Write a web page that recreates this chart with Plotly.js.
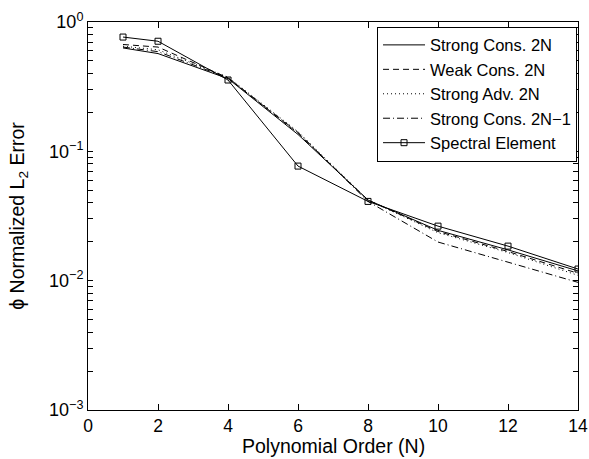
<!DOCTYPE html>
<html>
<head>
<meta charset="utf-8">
<script src="https://cdn.plot.ly/plotly-3.0.1.min.js"></script>
<style>html,body{margin:0;padding:0;background:#fff;}#chart{width:589px;height:459px;}</style>
</head>
<body>
<div id="chart"></div>
<script>
const orders = [1, 2, 4, 6, 8, 10, 12, 14];
const strongCons2N = [0.63, 0.57, 0.365, 0.135, 0.042, 0.0245, 0.0173, 0.0119];
const weakCons2N = [0.67, 0.64, 0.37, 0.138, 0.042, 0.0240, 0.0168, 0.0114];
const strongAdv2N = [0.65, 0.61, 0.375, 0.142, 0.042, 0.0235, 0.0165, 0.0110];
const strongCons2Nm1 = [0.64, 0.59, 0.37, 0.14, 0.041, 0.0199, 0.0139, 0.0097];
const spectralElement = [0.765, 0.71, 0.356, 0.0769, 0.041, 0.0264, 0.0185, 0.0123];
const seriesNames = ["Strong Cons. 2N", "Weak Cons. 2N", "Strong Adv. 2N", "Strong Cons. 2N\u22121", "Spectral Element"];
// y ticks: decades labelled, in-between values are unlabelled minor ticks
const yTickVals = [0.001, 0.002, 0.003, 0.004, 0.005, 0.006, 0.007, 0.008, 0.009,
                   0.01, 0.02, 0.03, 0.04, 0.05, 0.06, 0.07, 0.08, 0.09,
                   0.1, 0.2, 0.3, 0.4, 0.5, 0.6, 0.7, 0.8, 0.9, 1];
const yTickText = ["10<sup>\u22123</sup>", "", "", "", "", "", "", "", "",
                   "10<sup>\u22122</sup>", "", "", "", "", "", "", "", "",
                   "10<sup>\u22121</sup>", "", "", "", "", "", "", "", "",
                   "10<sup>0</sup>"];
const xTickVals = [0, 2, 4, 6, 8, 10, 12, 14];
const xTitle = 'Polynomial Order (N)';
const yTitle = '\u03D5 Normalized L<sub>2</sub> Error';

const base = {type: 'scatter', x: orders, hoverinfo: 'skip'};
const traces = [
  Object.assign({}, base, {y: strongCons2N, name: seriesNames[0], mode: 'lines', line: {color: '#000', width: 1}}),
  Object.assign({}, base, {y: weakCons2N, name: seriesNames[1], mode: 'lines', line: {color: '#000', width: 1, dash: '6px,4px'}}),
  Object.assign({}, base, {y: strongAdv2N, name: seriesNames[2], mode: 'lines', line: {color: '#000', width: 1, dash: '1px,3px'}}),
  Object.assign({}, base, {y: strongCons2Nm1, name: seriesNames[3], mode: 'lines', line: {color: '#000', width: 1, dash: '7px,3px,1px,3px'}}),
  Object.assign({}, base, {y: spectralElement, name: seriesNames[4], mode: 'lines+markers', line: {color: '#000', width: 1},
    marker: {symbol: 'square-open', size: 6, color: '#000', line: {width: 1, color: '#000'}}})
];

const fontFam = 'Liberation Sans, Arial, Helvetica, sans-serif';
const layout = {
  width: 589, height: 459,
  margin: {l: 88, r: 11, t: 22, b: 49},
  paper_bgcolor: '#fff', plot_bgcolor: '#fff',
  font: {family: fontFam, size: 16, color: '#000'},
  showlegend: true,
  legend: {
    x: 0.998, xanchor: 'right', y: 0.988, yanchor: 'top',
    bgcolor: '#fff', bordercolor: '#000', borderwidth: 1,
    font: {family: fontFam, size: 16.5, color: '#000'},
    itemwidth: 42,
    tracegroupgap: 0
  },
  xaxis: {
    range: [0, 14], tickvals: xTickVals, ticks: 'inside', ticklen: 6, tickwidth: 1, tickcolor: '#000',
    showline: true, linecolor: '#000', linewidth: 1, mirror: 'allticks',
    showgrid: false, zeroline: false, automargin: false,
    tickfont: {family: fontFam, size: 17.5, color: '#000'}
  },
  yaxis: {
    type: 'log', range: [-3, 0], tickmode: 'array', tickvals: yTickVals, ticktext: yTickText,
    ticks: 'inside', ticklen: 5, tickwidth: 1, tickcolor: '#000',
    showline: true, linecolor: '#000', linewidth: 1, mirror: 'allticks',
    showgrid: false, zeroline: false, automargin: false,
    tickfont: {family: fontFam, size: 18, color: '#000'},
    title: {text: yTitle, font: {family: fontFam, size: 19.5, color: '#000'}, standoff: 19}
  },
  annotations: [{
    text: xTitle, xref: 'paper', yref: 'paper', x: 0.5, y: -0.092,
    xanchor: 'center', yanchor: 'middle', showarrow: false,
    font: {family: fontFam, size: 19.5, color: '#000'}
  }]
};

Plotly.newPlot('chart', traces, layout, {staticPlot: true, displayModeBar: false});
</script>
</body>
</html>
